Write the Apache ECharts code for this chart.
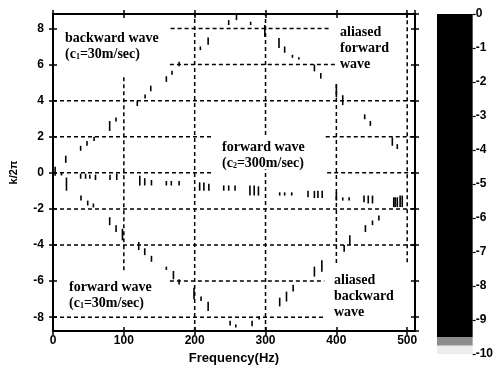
<!DOCTYPE html>
<html>
<head>
<meta charset="utf-8">
<script src="https://cdn.jsdelivr.net/npm/echarts@6/dist/echarts.min.js"></script>
<style>
  html, body { margin: 0; padding: 0; background: #fff; }
  #fk_chart { width: 496px; height: 370px; }
</style>
</head>
<body>
<div id="fk_chart"></div>
<script>
// each tick: [frequency (Hz), k top, k bottom]
var backwardC1 = [
  [18, 0.95, 0.55], [39, 1.5, 1.22], [48, 1.77, 1.5], [58, 2.0, 1.77],
  [80, 2.87, 2.32], [89, 3.07, 2.85], [119, 4.0, 3.7], [130, 4.34, 4.12],
  [138, 4.83, 4.52], [160, 5.35, 5.04], [168, 5.66, 5.44], [178, 6.15, 5.9],
  [208, 7.0, 6.8], [219, 7.5, 7.1], [248, 8.46, 8.19], [259, 8.77, 8.46]
];
var aliasedForward = [
  [279, 8.37, 8.19], [299, 8.19, 7.54], [319, 7.47, 6.92], [327, 7.0, 6.65],
  [338, 6.54, 6.37], [347, 6.4, 6.28], [369, 6.0, 5.62], [378, 5.53, 5.22],
  [400, 4.89, 4.18], [409, 4.3, 3.75], [440, 3.24, 2.97], [448, 2.87, 2.6],
  [479, 1.96, 1.5], [486, 1.59, 1.32]
];
var forwardC1 = [
  [3, 0.33, -0.16], [19, -0.26, -0.99], [39.5, -1.26, -1.54], [49, -1.54, -1.81],
  [57, -1.7, -1.92], [80, -2.46, -2.9], [89, -2.9, -3.28], [98, -3.1, -3.74],
  [121, -3.83, -4.28], [129.5, -4.18, -4.56], [139, -4.6, -4.93], [160, -5.2, -5.38],
  [170, -5.44, -5.9], [178, -5.9, -6.19], [199, -6.37, -7.0], [209, -6.85, -7.1],
  [219, -7.15, -7.65], [250, -8.2, -8.46], [258, -8.4, -8.57]
];
var aliasedBackward = [
  [281, -8.2, -8.5], [291, -7.95, -8.13], [320, -6.92, -7.4], [329.6, -6.58, -7.13],
  [339, -6.2, -6.58], [369, -5.2, -5.75], [379.5, -4.84, -5.48], [411, -4.0, -4.38],
  [419, -3.46, -4.0], [441, -2.9, -3.28], [451, -2.64, -2.9], [460, -2.36, -2.64],
  [483, -1.36, -1.9], [490, -1.26, -1.9]
];
var forwardC2 = [
  [12, 0.05, -0.15], [39, -0.04, -0.33], [46, -0.05, -0.33], [52, -0.1, -0.33],
  [60, -0.1, -0.4], [80.5, -0.1, -0.4], [90, -0.05, -0.4], [122.5, -0.16, -0.71],
  [129.5, -0.3, -0.7], [139, -0.4, -0.7], [160, -0.45, -0.7], [167, -0.45, -0.7],
  [178, -0.45, -0.7], [207, -0.53, -0.99], [213, -0.53, -0.99], [220, -0.6, -0.99],
  [241, -0.7, -0.99], [248, -0.7, -0.99], [257, -0.7, -0.99], [278, -0.7, -1.26],
  [284, -0.7, -1.26], [290, -0.75, -1.26], [320, -1.08, -1.26], [327, -1.08, -1.26],
  [337, -1.08, -1.26], [360, -1.0, -1.36], [369, -1.0, -1.4], [374, -1.0, -1.4],
  [380, -1.0, -1.4], [400, -1.08, -1.54], [409, -1.36, -1.54], [418, -1.36, -1.54],
  [439, -1.26, -1.63], [445, -1.26, -1.7], [451, -1.26, -1.7], [481, -1.36, -1.9],
  [486, -1.36, -1.9], [493, -1.26, -1.9]
];

// dashed grid pieces: horizontal [k, f from, f to], vertical [f, k from, k to]
var hGrid = [
  [8, 166, 392], [6, 165, 400], [4, 0, 511], [2, 0, 226], [2, 385, 511],
  [0, 0, 226], [0, 387, 511], [-2, 0, 511], [-4, 0, 511], [-6, 165, 383], [-8, 0, 382]
];
var vGrid = [
  [100, -5.4, 5.44], [200, -8.77, 8.8], [300, 2.1, 8.8], [300, -8.77, 0.2],
  [400, -5.0, 5.0], [500, -4.95, 8.8]
];

// colour bar bands [from, to]
var cbBands = [[-10, -9.75], [-9.75, -9.5], [-9.5, 0]];

var fMin = 0, fMax = 511, kMin = -8.77, kMax = 8.8;

var chart = echarts.init(document.getElementById('fk_chart'));

function vSeg(dash) {
  return function (params, api) {
    var a = api.coord([api.value(0), api.value(1)]);
    var b = api.coord([api.value(0), api.value(2)]);
    return {
      type: 'line',
      shape: { x1: a[0], y1: a[1], x2: b[0], y2: b[1] },
      style: { stroke: '#000', lineWidth: dash ? 1.5 : 1.6, lineDash: dash ? [4, 3] : null }
    };
  };
}
function hSeg(params, api) {
  var a = api.coord([api.value(1), api.value(0)]);
  var b = api.coord([api.value(2), api.value(0)]);
  return {
    type: 'line',
    shape: { x1: a[0], y1: a[1], x2: b[0], y2: b[1] },
    style: { stroke: '#000', lineWidth: 1.5, lineDash: [4, 3] }
  };
}
function tickSeries(name, data) {
  return {
    name: name, type: 'custom', renderItem: vSeg(false), data: data, z: 5,
    encode: { x: 0, y: [1, 2] }, silent: true
  };
}

var lbl = { color: '#000', fontWeight: 'bold', fontSize: 12, fontFamily: 'Liberation Sans' };
function xAx(pos, line, inside, label) {
  return {
    type: 'value', gridIndex: 0, min: fMin, max: fMax, interval: 100, position: pos,
    axisLine: { show: line, onZero: false, lineStyle: { color: '#000', width: 2 } },
    axisTick: { inside: inside, length: 4, lineStyle: { color: '#000', width: 1.5 } },
    axisLabel: label ? Object.assign({ margin: 4, showMaxLabel: false }, lbl) : { show: false },
    splitLine: { show: false }
  };
}
function yAx(pos, line, inside, label) {
  return {
    type: 'value', gridIndex: 0, min: kMin, max: kMax, splitNumber: 9, position: pos,
    axisLine: { show: line, onZero: false, lineStyle: { color: '#000', width: 2 } },
    axisTick: { inside: inside, length: 4, lineStyle: { color: '#000', width: 1.5 } },
    axisLabel: label ? Object.assign({ margin: 9, showMinLabel: false, showMaxLabel: false }, lbl) : { show: false },
    splitLine: { show: false }
  };
}

var xMain = xAx('bottom', true, false, true);
xMain.name = 'Frequency(Hz)';
xMain.nameLocation = 'middle';
xMain.nameGap = 20;
xMain.nameTextStyle = { color: '#000', fontWeight: 'bold', fontSize: 13, fontFamily: 'Liberation Sans' };
var yMain = yAx('left', true, false, true);
yMain.name = 'k/2π';
yMain.nameLocation = 'middle';
yMain.nameGap = 34;
yMain.nameRotate = 90;
yMain.nameTextStyle = { color: '#000', fontWeight: 'bold', fontSize: 11, fontFamily: 'Liberation Sans' };

var serif = 'bold 14px "Liberation Serif"';
var rich = {
  s: { fontSize: 8, fontWeight: 'bold', fontFamily: 'Liberation Serif', padding: [6, 0, 0, 0] }
};
function note(x, y, text) {
  return {
    type: 'text', x: x, y: y, z: 10,
    style: { text: text, font: serif, fill: '#000', lineHeight: 16, rich: rich, verticalAlign: 'top' }
  };
}

chart.setOption({
  animation: false,
  grid: [
    { left: 49, top: 14, right: 81, bottom: 37 },
    { left: 437, top: 14, width: 36, height: 340 }
  ],
  xAxis: [
    xMain,
    xAx('bottom', false, true, false),
    xAx('top', true, true, false),
    xAx('top', false, false, false),
    { type: 'value', gridIndex: 1, min: 0, max: 1, show: false }
  ],
  yAxis: [
    yMain,
    yAx('left', false, true, false),
    yAx('right', true, true, false),
    yAx('right', false, false, false),
    {
      type: 'value', gridIndex: 1, min: -10, max: 0, interval: 1, position: 'right',
      axisLine: { show: false, onZero: false },
      axisTick: { length: 3, lineStyle: { color: '#000', width: 1.2 } },
      axisLabel: Object.assign({ margin: 3 }, lbl),
      splitLine: { show: false }
    }
  ],
  visualMap: {
    show: false, type: 'piecewise', seriesIndex: 7, dimension: 0,
    pieces: [
      { lt: -9.8, color: '#ececec' },
      { gte: -9.8, lt: -9.6, color: '#8c8c8c' },
      { gte: -9.6, color: '#000' }
    ]
  },
  series: [
    { name: 'hgrid', type: 'custom', renderItem: hSeg, data: hGrid, z: 1, silent: true, encode: { x: [1, 2], y: 0 } },
    { name: 'vgrid', type: 'custom', renderItem: vSeg(true), data: vGrid, z: 1, silent: true, encode: { x: 0, y: [1, 2] } },
    tickSeries('backward wave', backwardC1),
    tickSeries('aliased forward wave', aliasedForward),
    tickSeries('forward wave c1', forwardC1),
    tickSeries('aliased backward wave', aliasedBackward),
    tickSeries('forward wave c2', forwardC2),
    {
      name: 'colorbar', type: 'custom', xAxisIndex: 4, yAxisIndex: 4, data: cbBands, silent: true,
      encode: { y: [0, 1] },
      renderItem: function (params, api) {
        var p0 = api.coord([0, api.value(0)]);
        var p1 = api.coord([1, api.value(1)]);
        return {
          type: 'rect',
          shape: { x: p0[0], y: p1[1], width: p1[0] - p0[0], height: p0[1] - p1[1] },
          style: { fill: api.visual('color') }
        };
      }
    }
  ],
  graphic: [
    note(65, 30, 'backward wave\n(c{s|1}=30m/sec)'),
    note(222, 139, 'forward wave\n(c{s|2}=300m/sec)'),
    note(340, 24, 'aliased\nforward\nwave'),
    note(69, 279, 'forward wave\n(c{s|1}=30m/sec)'),
    note(334, 272, 'aliased\nbackward\nwave')
  ]
});
</script>
</body>
</html>
